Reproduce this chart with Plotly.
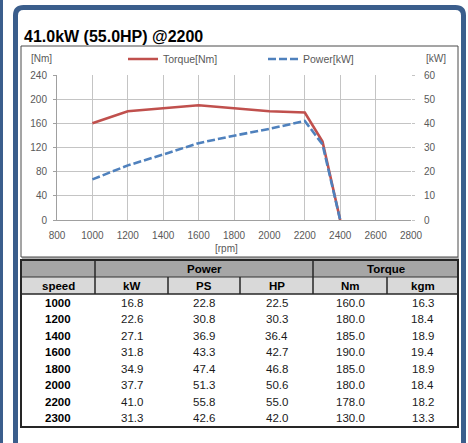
import plotly.graph_objects as go

# ---------------- data ----------------
speed = [1000, 1200, 1400, 1600, 1800, 2000, 2200, 2300]
kw = [16.8, 22.6, 27.1, 31.8, 34.9, 37.7, 41.0, 31.3]
ps = [22.8, 30.8, 36.9, 43.3, 47.4, 51.3, 55.8, 42.6]
hp = [22.5, 30.3, 36.4, 42.7, 46.8, 50.6, 55.0, 42.0]
nm = [160.0, 180.0, 185.0, 190.0, 185.0, 180.0, 178.0, 130.0]
kgm = [16.3, 18.4, 18.9, 19.4, 18.9, 18.4, 18.2, 13.3]

rpm_chart = [1000, 1200, 1400, 1600, 1800, 2000, 2200, 2300, 2400]
torque_chart = [160, 180, 185, 190, 185, 180, 178, 130, 0]
power_chart = [16.8, 22.6, 27.1, 31.8, 34.9, 37.7, 41.0, 31.3, 0]

title_text = "41.0kW (55.0HP) @2200"
group_headers = ["Power", "Torque"]
col_headers = ["speed", "kW", "PS", "HP", "Nm", "kgm"]

# ---------------- geometry helpers ----------------
W, H = 468, 443
def X(px):
    return px / W
def Y(py):
    return 1 - py / H

BLUE_FRAME = "#3b5e8c"
RED = "#c0504d"
BLUE = "#4f81bd"
GRID = "#c4c4c4"
TICK = "#595959"
SANS = "Liberation Sans, Arial"

fig = go.Figure()
fig.add_trace(go.Scatter(x=rpm_chart, y=torque_chart, name="Torque[Nm]", mode="lines",
                         line=dict(color=RED, width=2.6), legend="legend", yaxis="y"))
fig.add_trace(go.Scatter(x=rpm_chart, y=power_chart, name="Power[kW]", mode="lines",
                         line=dict(color=BLUE, width=2.6, dash="8px,3px"), legend="legend2", yaxis="y2"))

shapes = []
# left blue strip
shapes.append(dict(type="rect", xref="paper", yref="paper", x0=0, x1=X(3), y0=-0.05, y1=1.05,
                   fillcolor=BLUE_FRAME, line=dict(width=0)))
# frame with rounded top corners
l, r, t, b, rad = 15.5, 463.5, 7.5, 460, 8
path = (f"M {X(l)},{Y(b)} L {X(l)},{Y(t+rad)} Q {X(l)},{Y(t)} {X(l+rad)},{Y(t)} "
        f"L {X(r-rad)},{Y(t)} Q {X(r)},{Y(t)} {X(r)},{Y(t+rad)} L {X(r)},{Y(b)}")
shapes.append(dict(type="path", xref="paper", yref="paper", path=path,
                   line=dict(color=BLUE_FRAME, width=5), layer="below"))
# chart box with shadow
shapes.append(dict(type="line", xref="paper", yref="paper", x0=X(22), x1=X(459), y0=Y(258), y1=Y(258),
                   line=dict(color="#9a9a9a", width=1.5), layer="below"))
shapes.append(dict(type="rect", xref="paper", yref="paper", x0=X(21), x1=X(458), y0=Y(257), y1=Y(46),
                   line=dict(color="#4a4a4a", width=1), layer="below"))

# table
tl, tr, tt, tb = 21, 458, 260, 427
r1b, r2b = 277, 294
cols = [21, 95, 168, 240, 313, 387, 458]
shapes.append(dict(type="rect", xref="paper", yref="paper", x0=X(tl), x1=X(tr), y0=Y(r1b), y1=Y(tt),
                   fillcolor="#a6a6a6", line=dict(width=0), layer="below"))
shapes.append(dict(type="rect", xref="paper", yref="paper", x0=X(tl), x1=X(tr), y0=Y(r2b), y1=Y(r1b),
                   fillcolor="#d9d9d9", line=dict(width=0), layer="below"))
shapes.append(dict(type="line", xref="paper", yref="paper", x0=X(tl), x1=X(tr), y0=Y(r1b), y1=Y(r1b),
                   line=dict(color="#333333", width=1)))
shapes.append(dict(type="line", xref="paper", yref="paper", x0=X(tl), x1=X(tr), y0=Y(r2b), y1=Y(r2b),
                   line=dict(color="#262626", width=1.5)))
for cx in [cols[1], cols[4]]:
    shapes.append(dict(type="line", xref="paper", yref="paper", x0=X(cx), x1=X(cx), y0=Y(tt), y1=Y(r2b),
                       line=dict(color="#262626", width=1.5)))
for cx in [cols[2], cols[3], cols[5]]:
    shapes.append(dict(type="line", xref="paper", yref="paper", x0=X(cx), x1=X(cx), y0=Y(r1b), y1=Y(r2b),
                       line=dict(color="#262626", width=1.5)))
shapes.append(dict(type="rect", xref="paper", yref="paper", x0=X(tl), x1=X(tr), y0=Y(tb), y1=Y(tt),
                   line=dict(color="#262626", width=2)))

annotations = []
def txt(s, px, py, size=10, color="#000000", bold=False, family=SANS, xanchor="center"):
    annotations.append(dict(text=f"<b>{s}</b>" if bold else s, x=X(px), y=Y(py), xref="paper", yref="paper",
                            xanchor=xanchor, yanchor="middle", showarrow=False,
                            font=dict(size=size, color=color, family=family)))

txt(title_text, 22, 36.5, size=16, bold=True, color="#000000", xanchor="left")
txt("[Nm]", 41, 58.5, size=10, color=TICK)
txt("[kW]", 436, 58.5, size=10, color=TICK)
txt("[rpm]", 226, 248.5, size=10, color=TICK)

centers = [(cols[i] + cols[i + 1]) / 2 for i in range(6)]
txt(group_headers[0], (cols[1] + cols[4]) / 2, 268.5, size=11.5, bold=True)
txt(group_headers[1], (cols[4] + cols[6]) / 2, 268.5, size=11.5, bold=True)
for i, h in enumerate(col_headers):
    txt(h, centers[i], 285.5, size=11.5, bold=True)

row_y0, row_step = 302.7, 16.5
for j in range(len(speed)):
    yy = row_y0 + j * row_step
    txt(f"{speed[j]}", centers[0], yy, size=11.5, bold=True)
    vals = [kw[j], ps[j], hp[j], nm[j], kgm[j]]
    for i, v in enumerate(vals):
        txt(f"{v:.1f}", centers[i + 1], yy, size=11.5, color="#1a1a1a")

tickfont = dict(size=10, color=TICK, family=SANS)
legfont = dict(size=10.5, color=TICK, family=SANS)
fig.update_layout(
    width=W, height=H,
    margin=dict(l=0, r=0, t=0, b=0, pad=0, autoexpand=False),
    paper_bgcolor="white", plot_bgcolor="white",
    showlegend=True,
    xaxis=dict(domain=[X(57), X(411)], range=[800, 2800], dtick=200, tick0=800, automargin=False,
               showgrid=True, gridcolor=GRID, gridwidth=1,
               showline=True, linecolor="#a0a0a0", linewidth=1,
               ticks="", tickfont=tickfont, ticklabelstandoff=6, zeroline=False, fixedrange=True),
    yaxis=dict(domain=[Y(220), Y(75)], range=[0, 240], dtick=40, automargin=False,
               showgrid=True, gridcolor=GRID, gridwidth=1,
               showline=True, linecolor="#a0a0a0", linewidth=1,
               ticks="outside", ticklen=3, tickcolor="#a0a0a0",
               tickfont=tickfont, ticklabelstandoff=4, zeroline=False),
    yaxis2=dict(overlaying="y", side="right", range=[0, 60], dtick=10, automargin=False,
                showgrid=False, showline=False, ticks="outside", ticklen=3, tickcolor="#c4c4c4",
                tickfont=tickfont, ticklabelstandoff=7, zeroline=False),
    legend=dict(x=X(123), y=Y(59), xanchor="left", yanchor="middle", orientation="h",
                font=legfont, bgcolor="rgba(0,0,0,0)", borderwidth=0),
    legend2=dict(x=X(263), y=Y(59), xanchor="left", yanchor="middle", orientation="h",
                 font=legfont, bgcolor="rgba(0,0,0,0)", borderwidth=0),
    shapes=shapes,
    annotations=annotations,
)

fig.write_html("out.html", config={"displayModeBar": False},
               post_script="document.body.style.margin='0';")
